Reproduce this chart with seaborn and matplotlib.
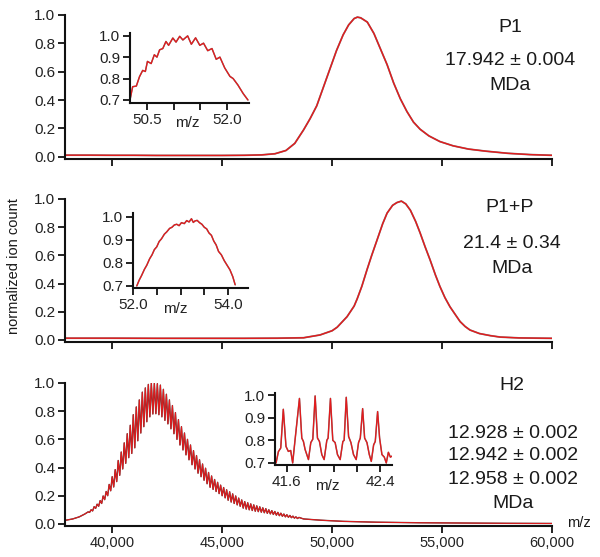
import numpy as np
import pandas as pd
import matplotlib
matplotlib.use("Agg")
import matplotlib.pyplot as plt
import seaborn as sns

# ---------------- data ----------------
# Panel P1 (main trace), m/z and normalized ion count
p1_mz = [37850, 39000, 40000, 41000, 42000, 43000, 44000, 45000, 46000, 46800, 47400,
         47900, 48300, 48700, 49000, 49300, 49600, 49900, 50200, 50500, 50750, 51000,
         51150, 51300, 51600, 51900, 52200, 52500, 52800, 53100, 53400, 53700, 54000,
         54400, 54900, 55500, 56200, 57000, 58000, 59000, 60000]
p1_int = [0.012, 0.012, 0.011, 0.011, 0.010, 0.010, 0.010, 0.010, 0.011, 0.014, 0.022,
          0.045, 0.095, 0.19, 0.27, 0.36, 0.49, 0.62, 0.75, 0.86, 0.93, 0.975,
          0.985, 0.98, 0.95, 0.87, 0.76, 0.65, 0.52, 0.41, 0.32, 0.245, 0.195,
          0.148, 0.108, 0.078, 0.055, 0.040, 0.025, 0.016, 0.011]

# P1 inset (m/z in thousands)
ins1_mz = [50.17, 50.22, 50.29, 50.35, 50.41, 50.46, 50.50, 50.57, 50.63, 50.68, 50.73,
           50.79, 50.85, 50.90, 50.98, 51.04, 51.11, 51.17, 51.26, 51.33, 51.41, 51.49,
           51.56, 51.64, 51.72, 51.80, 51.87, 51.96, 52.06, 52.12, 52.21, 52.31, 52.40]
ins1_int = [0.70, 0.762, 0.765, 0.809, 0.838, 0.833, 0.88, 0.87, 0.911, 0.90, 0.934,
            0.94, 0.973, 0.955, 0.989, 0.97, 0.997, 0.98, 0.999, 0.96, 0.99, 0.955,
            0.965, 0.93, 0.94, 0.89, 0.90, 0.85, 0.81, 0.80, 0.77, 0.73, 0.70]

# Panel P1+P (main trace)
p2_mz = [37850, 40000, 42000, 44000, 46000, 47500, 48700, 49450, 50000, 50230, 50680,
         51000, 51136, 51350, 51590, 51800, 52045, 52300, 52500, 52750, 52950, 53150,
         53350, 53560, 53800, 54000, 54230, 54450, 54700, 54900, 55130, 55360, 55600,
         55820, 56050, 56270, 56700, 57200, 57640, 58500, 60000]
p2_int = [0.012, 0.012, 0.011, 0.011, 0.011, 0.012, 0.015, 0.035, 0.065, 0.09, 0.165,
          0.24, 0.29, 0.38, 0.50, 0.60, 0.71, 0.825, 0.90, 0.955, 0.975, 0.985,
          0.965, 0.92, 0.84, 0.76, 0.66, 0.57, 0.46, 0.38, 0.30, 0.235, 0.18,
          0.13, 0.095, 0.07, 0.045, 0.03, 0.02, 0.014, 0.011]

# P1+P inset
ins2_mz = [52.08, 52.13, 52.18, 52.24, 52.29, 52.35, 52.40, 52.45, 52.50, 52.55, 52.60,
           52.66, 52.71, 52.77, 52.82, 52.87, 52.92, 52.97, 53.02, 53.08, 53.13, 53.18,
           53.23, 53.27, 53.30, 53.35, 53.40, 53.45, 53.50, 53.55, 53.60, 53.65, 53.70,
           53.75, 53.80, 53.86, 53.92, 53.98, 54.04, 54.10, 54.15]
ins2_int = [0.70, 0.725, 0.745, 0.772, 0.79, 0.818, 0.835, 0.858, 0.87, 0.893, 0.905,
            0.925, 0.935, 0.950, 0.955, 0.965, 0.968, 0.962, 0.975, 0.971, 0.984, 0.978,
            0.992, 0.976, 0.982, 0.985, 0.975, 0.968, 0.955, 0.948, 0.93, 0.92, 0.895,
            0.878, 0.85, 0.835, 0.81, 0.79, 0.77, 0.74, 0.705]

# Panel H2: baseline/tails, charge-state comb peaks and valleys
h2_tail_mz = [37850, 38200, 38500, 38750, 48700, 49500, 50500, 52000, 54000, 56000, 58000, 60000]
h2_tail_int = [0.025, 0.035, 0.05, 0.07, 0.035, 0.026, 0.018, 0.012, 0.008, 0.006, 0.004, 0.003]

h2_peak_mz = [38900, 39037, 39174, 39311, 39448, 39585, 39722, 39859, 39996, 40133,
              40270, 40407, 40544, 40681, 40818, 40955, 41092, 41229, 41366, 41503,
              41640, 41777, 41914, 42051, 42188, 42325, 42462, 42599, 42736, 42873,
              43010, 43147, 43284, 43421, 43558, 43695, 43832, 43969, 44106, 44243,
              44380, 44517, 44654, 44791, 44928, 45065, 45202, 45339, 45476, 45613,
              45750, 45887, 46024, 46161, 46298, 46435, 46572, 46709, 46846, 46983,
              47120, 47257, 47394, 47531, 47668, 47805, 47942, 48079, 48216, 48353, 48490]
h2_peak_int = [0.085, 0.10, 0.122, 0.14, 0.165, 0.198, 0.23, 0.28, 0.335, 0.385,
               0.45, 0.51, 0.575, 0.64, 0.70, 0.775, 0.83, 0.88, 0.935, 0.965,
               0.99, 1.0, 0.998, 0.995, 0.985, 0.955, 0.92, 0.88, 0.84, 0.79,
               0.74, 0.69, 0.645, 0.60, 0.56, 0.52, 0.485, 0.455, 0.425, 0.395,
               0.365, 0.34, 0.315, 0.295, 0.275, 0.258, 0.242, 0.228, 0.213, 0.198,
               0.183, 0.17, 0.158, 0.15, 0.142, 0.135, 0.128, 0.121, 0.114, 0.108,
               0.10, 0.094, 0.088, 0.082, 0.076, 0.070, 0.065, 0.060, 0.055, 0.050, 0.046]
h2_valley_mz = [38969, 39106, 39243, 39380, 39517, 39654, 39791, 39928, 40065, 40202,
                40339, 40476, 40613, 40750, 40887, 41024, 41161, 41298, 41435, 41572,
                41709, 41846, 41983, 42120, 42257, 42394, 42531, 42668, 42805, 42942,
                43079, 43216, 43353, 43490, 43627, 43764, 43901, 44038, 44175, 44312,
                44449, 44586, 44723, 44860, 44997, 45134, 45271, 45408, 45545, 45682,
                45819, 45956, 46093, 46230, 46367, 46504, 46641, 46778, 46915, 47052,
                47189, 47326, 47463, 47600, 47737, 47874, 48011, 48148, 48285, 48422]
h2_valley_int = [0.082, 0.092, 0.11, 0.125, 0.145, 0.172, 0.20, 0.235, 0.262, 0.30,
                 0.345, 0.39, 0.43, 0.47, 0.50, 0.54, 0.59, 0.645, 0.69, 0.725,
                 0.76, 0.78, 0.782, 0.775, 0.76, 0.735, 0.71, 0.675, 0.64, 0.60,
                 0.56, 0.525, 0.49, 0.455, 0.42, 0.39, 0.36, 0.335, 0.31, 0.285,
                 0.26, 0.245, 0.23, 0.215, 0.20, 0.185, 0.168, 0.155, 0.145, 0.135,
                 0.125, 0.112, 0.105, 0.10, 0.095, 0.09, 0.087, 0.083, 0.079, 0.075,
                 0.071, 0.067, 0.062, 0.058, 0.054, 0.05, 0.047, 0.044, 0.041, 0.038]

# H2 inset
ins3_mz = [41.509, 41.529, 41.549, 41.571, 41.594, 41.614, 41.634, 41.651, 41.671, 41.709,
           41.729, 41.743, 41.757, 41.786, 41.806, 41.823, 41.843, 41.863, 41.880, 41.900,
           41.920, 41.943, 41.954, 41.974, 41.994, 42.014, 42.034, 42.057, 42.080, 42.091,
           42.109, 42.129, 42.149, 42.171, 42.194, 42.214, 42.229, 42.249, 42.266, 42.286,
           42.306, 42.323, 42.343, 42.357, 42.377, 42.394, 42.414, 42.434, 42.451, 42.469,
           42.486, 42.500]
ins3_int = [0.70, 0.75, 0.766, 0.937, 0.773, 0.751, 0.755, 0.70, 0.80, 0.985,
            0.81, 0.795, 0.76, 0.715, 0.79, 0.805, 0.996, 0.81, 0.795, 0.737,
            0.715, 0.80, 0.81, 0.985, 0.80, 0.79, 0.737, 0.715, 0.795, 0.80,
            0.99, 0.817, 0.79, 0.737, 0.715, 0.79, 0.81, 0.94, 0.81, 0.79,
            0.737, 0.707, 0.78, 0.795, 0.927, 0.81, 0.737, 0.726, 0.70, 0.747,
            0.726, 0.73]

main_xticks = [40000, 45000, 50000, 55000, 60000]
main_xticklabels = ["40,000", "45,000", "50,000", "55,000", "60,000"]
main_yticks = [0.0, 0.2, 0.4, 0.6, 0.8, 1.0]
inset_yticks = [0.7, 0.8, 0.9, 1.0]
ins1_xticks = [50.5, 51.0, 51.5, 52.0]
ins1_xticklabels = ["50.5", "", "", "52.0"]
ins2_xticks = [52.0, 52.5, 53.0, 53.5, 54.0]
ins2_xticklabels = ["52.0", "", "", "", "54.0"]
ins3_xticks = [41.6, 41.8, 42.0, 42.2, 42.4]
ins3_xticklabels = ["41.6", "", "", "", "42.4"]

# ---------------- style ----------------
sns.set_style("ticks")
plt.rcParams['font.family'] = ['Liberation Sans', 'DejaVu Sans']
plt.rcParams['axes.linewidth'] = 1.5

W, H = 600, 557
fig = plt.figure(figsize=(6.0, 5.57), dpi=100)


def px_axes(x0, y0, x1, y1):
    return fig.add_axes([x0 / W, 1 - y1 / H, (x1 - x0) / W, (y1 - y0) / H])


def trace(ax, x, y, lw_b=1.3, lw_r=1.0, a_b=0.55):
    df = pd.DataFrame({"mz": x, "v": y})
    sns.lineplot(data=df, x="mz", y="v", ax=ax, color="#1a0a0a", lw=lw_b,
                 estimator=None, sort=True, alpha=a_b)
    sns.lineplot(data=df, x="mz", y="v", ax=ax, color="#e41a1c", lw=lw_r,
                 estimator=None, sort=True)
    ax.set_xlabel("")
    ax.set_ylabel("")


def style_axes(ax, ticklen=5, fs=11):
    sns.despine(ax=ax)
    ax.tick_params(direction="out", length=ticklen, width=1.4, labelsize=fs,
                   colors="#222222", pad=2)
    for s in ("left", "bottom"):
        ax.spines[s].set_linewidth(1.5)
        ax.spines[s].set_color("#111111")
    ax.set_facecolor("none")


main_boxes = [(65, 15, 552, 159), (65, 199, 552, 342), (65, 383, 552, 526)]
main_axes = []
for i, box in enumerate(main_boxes):
    ax = px_axes(*box)
    main_axes.append(ax)

trace(main_axes[0], p1_mz, p1_int)
trace(main_axes[1], p2_mz, p2_int)
h2_mz = h2_tail_mz + h2_peak_mz + h2_valley_mz
h2_int = h2_tail_int + h2_peak_int + h2_valley_int
trace(main_axes[2], h2_mz, h2_int, lw_b=1.0, lw_r=0.75, a_b=0.8)

for i, ax in enumerate(main_axes):
    ax.set_xlim(37850, 60000)
    ax.set_ylim(-0.015, 1.0)
    ax.set_yticks(main_yticks)
    ax.set_yticklabels([f"{t:.1f}" for t in main_yticks])
    ax.set_xticks(main_xticks)
    if i == 2:
        ax.set_xticklabels(main_xticklabels)
    else:
        ax.set_xticklabels([])
    style_axes(ax, fs=11)
main_axes[2].tick_params(axis="x", labelsize=10.5)

# insets
in1 = px_axes(130, 33, 249, 103)
trace(in1, ins1_mz, ins1_int, lw_b=1.1, lw_r=0.9)
in1.set_xlim(50.17, 52.42)
in1.set_ylim(0.686, 1.0125)
in1.set_xticks(ins1_xticks)
in1.set_xticklabels(ins1_xticklabels)
in1.text(51.25, 0.625, "m/z", ha="center", va="top", fontsize=11, color="#222222")

in2 = px_axes(133, 213, 248, 288)
trace(in2, ins2_mz, ins2_int, lw_b=1.1, lw_r=0.9)
in2.set_xlim(52.0, 54.42)
in2.set_ylim(0.691, 1.017)
in2.set_xticks(ins2_xticks)
in2.set_xticklabels(ins2_xticklabels)
in2.text(52.9, 0.63, "m/z", ha="center", va="top", fontsize=11, color="#222222")

in3 = px_axes(275, 393, 392, 465)
trace(in3, ins3_mz, ins3_int, lw_b=1.1, lw_r=0.9)
in3.set_xlim(41.5, 42.5)
in3.set_ylim(0.691, 1.009)
in3.set_xticks(ins3_xticks)
in3.set_xticklabels(ins3_xticklabels)
in3.text(41.95, 0.63, "m/z", ha="center", va="top", fontsize=11, color="#222222")

for ax in (in1, in2, in3):
    ax.set_yticks(inset_yticks)
    ax.set_yticklabels([f"{t:.1f}" for t in inset_yticks])
    style_axes(ax, ticklen=5, fs=11)


def ftext(x, y, s, fs=14, **kw):
    fig.text(x / W, 1 - y / H, s, ha="center", va="center", fontsize=fs,
             color="#1a1a1a", **kw)


ftext(510, 27, "P1")
ftext(510, 61, "17.942 ± 0.004")
ftext(510, 85, "MDa")
ftext(510, 208, "P1+P")
ftext(512, 243, "21.4 ± 0.34")
ftext(512, 268, "MDa")
ftext(512, 385, "H2")
ftext(513, 433, "12.928 ± 0.002")
ftext(513, 456, "12.942 ± 0.002")
ftext(513, 480, "12.958 ± 0.002")
ftext(513, 503, "MDa")
ftext(579, 523, "m/z", fs=10.5)
fig.text(14 / W, 1 - 266 / H, "normalized ion count", rotation=90, ha="center",
         va="center", fontsize=10.5, color="#1a1a1a")

fig.savefig("out.png", dpi=100)
